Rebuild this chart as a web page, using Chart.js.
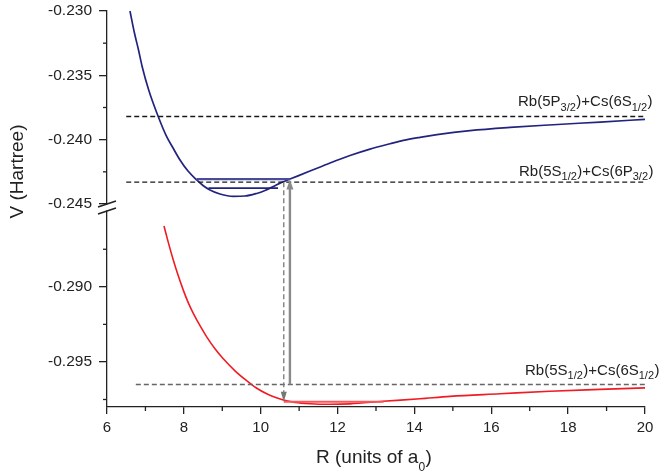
<!DOCTYPE html>
<html><head><meta charset="utf-8">
<script src="https://cdn.jsdelivr.net/npm/chart.js@4/dist/chart.umd.min.js"></script>
<style>html,body{margin:0;padding:0;background:#fff}</style>
</head><body>
<canvas id="c" width="659" height="474"></canvas>
<script>
// ---- data ----
const UPPER_R = [6.598, 6.716, 6.820, 6.916, 7.085, 7.335, 7.553, 7.704, 7.900, 8.108, 8.334, 8.498, 8.680, 8.940, 9.286, 9.591, 9.895, 10.111, 10.327, 10.528, 10.762, 11.282, 11.803, 12.323, 12.844, 13.364, 13.710, 14.144, 14.587, 15.446, 16.487, 17.613, 18.836, 20.0];
const UPPER_V = [-0.23000, -0.23173, -0.23303, -0.23433, -0.23614, -0.23822, -0.23977, -0.24057, -0.24158, -0.24244, -0.24313, -0.24356, -0.24391, -0.24422, -0.24440, -0.24438, -0.24418, -0.24395, -0.24364, -0.24334, -0.24306, -0.24244, -0.24181, -0.24123, -0.24073, -0.24032, -0.24006, -0.23982, -0.23961, -0.23930, -0.23905, -0.23884, -0.23863, -0.23842];
const LOWER_R = [7.483, 7.600, 7.725, 7.848, 7.985, 8.108, 8.246, 8.420, 8.594, 8.810, 9.026, 9.331, 9.635, 9.877, 10.156, 10.372, 10.588, 10.892, 11.282, 11.803, 12.323, 13.182, 14.145, 14.925, 16.226, 17.527, 18.828, 20.0];
const LOWER_V = [-0.28595, -0.28709, -0.28822, -0.28922, -0.29022, -0.29102, -0.29177, -0.29259, -0.29333, -0.29412, -0.29479, -0.29559, -0.29625, -0.29672, -0.29712, -0.29735, -0.29753, -0.29769, -0.29778, -0.29782, -0.29779, -0.29762, -0.29745, -0.29729, -0.29712, -0.29695, -0.29683, -0.29673];
const ASYM_TOP_V = [-0.2382, -0.2433];
const ASYM_TOP_R = [6.5, 20];
const ASYM_BOT_V = [-0.2965];
const ASYM_BOT_R = [6.75, 20];
const UPPER_LEVEL_V = [-0.24307, -0.24377];
const UPPER_LEVEL_R = [[8.33, 10.76], [8.64, 10.45]];
const LOWER_LEVEL_V = [-0.29765];
const LOWER_LEVEL_R = [[10.6, 13.2]];
const ARROW_UP = [10.76, -0.2965, -0.2431];     // R, from (lower scale), to (upper scale)
const ARROW_DOWN = [10.6, -0.2433, -0.29765];   // R, from (upper scale), to (lower scale)
const X_TICKS = [6, 8, 10, 12, 14, 16, 18, 20];
const X_MINOR = [7, 9, 11, 13, 15, 17, 19];
const Y_TOP_TICKS = [-0.245, -0.240, -0.235, -0.230];
const Y_TOP_MINOR = [-0.2425, -0.2375, -0.2325];
const Y_BOT_TICKS = [-0.295, -0.290];
const Y_BOT_MINOR = [-0.2975, -0.2925, -0.2875];
const ASYM_LABELS = [
  ['Rb(5P', '3/2', ')+Cs(6S', '1/2', ')'],
  ['Rb(5S', '1/2', ')+Cs(6P', '3/2', ')'],
  ['Rb(5S', '1/2', ')+Cs(6S', '1/2', ')']
];
const X_TITLE = ['R (units of a', '0', ')'];
const Y_TITLE = 'V (Hartree)';

const FONT = "'Liberation Sans', Arial, sans-serif";
const INK = '#222';
const BLUE = '#23237f';
const RED = '#f01c24';

const pts = (xs, ys) => xs.map((x, i) => ({x, y: ys[i]}));
const hline = (r, v) => [{x: r[0], y: v}, {x: r[1], y: v}];

const datasets = [];
ASYM_TOP_V.forEach(v => datasets.push({data: hline(ASYM_TOP_R, v), yAxisID: 'yTop', borderColor: '#1a1a1a', borderWidth: 1.3, borderDash: [5, 3], pointRadius: 0}));
ASYM_BOT_V.forEach(v => datasets.push({data: hline(ASYM_BOT_R, v), yAxisID: 'yBot', borderColor: '#666', borderWidth: 1.5, borderDash: [5, 3], pointRadius: 0}));
UPPER_LEVEL_V.forEach((v, i) => datasets.push({data: hline(UPPER_LEVEL_R[i], v), yAxisID: 'yTop', borderColor: i === 0 ? '#4b4b9c' : BLUE, borderWidth: i === 0 ? 2.4 : 1.6, pointRadius: 0}));
LOWER_LEVEL_V.forEach((v, i) => datasets.push({data: hline(LOWER_LEVEL_R[i], v), yAxisID: 'yBot', borderColor: '#f5585c', borderWidth: 2.2, pointRadius: 0}));
datasets.push({data: pts(UPPER_R, UPPER_V), yAxisID: 'yTop', borderColor: BLUE, borderWidth: 1.7, pointRadius: 0, cubicInterpolationMode: 'monotone'});
datasets.push({data: pts(LOWER_R, LOWER_V), yAxisID: 'yBot', borderColor: RED, borderWidth: 1.6, pointRadius: 0, cubicInterpolationMode: 'monotone'});

function drawRich(ctx, parts, x, y, size, subSize, subDrop) {
  ctx.textBaseline = 'alphabetic';
  ctx.textAlign = 'left';
  let cx = x;
  parts.forEach((p, i) => {
    const sub = i % 2 === 1;
    ctx.font = (sub ? subSize : size) + 'px ' + FONT;
    ctx.fillText(p, cx, sub ? y + subDrop : y);
    cx += ctx.measureText(p).width + (sub ? 0.5 : 0);
  });
}

function arrowHead(ctx, x, y, dir, w, l) {
  ctx.beginPath();
  ctx.moveTo(x, y);
  ctx.lineTo(x - w / 2, y - dir * l);
  ctx.lineTo(x + w / 2, y - dir * l);
  ctx.closePath();
  ctx.fill();
}

const extras = {
  id: 'extras',
  afterDatasetsDraw(chart) {
    const {ctx, scales} = chart;
    const x = scales.x, yT = scales.yTop, yB = scales.yBot;
    ctx.save();
    let px = x.getPixelForValue(ARROW_UP[0]);
    let y0 = yB.getPixelForValue(ARROW_UP[1]);
    let y1 = yT.getPixelForValue(ARROW_UP[2]);
    ctx.strokeStyle = '#8a8a8a'; ctx.fillStyle = '#8a8a8a'; ctx.lineWidth = 2.4;
    ctx.beginPath(); ctx.moveTo(px, y0); ctx.lineTo(px, y1 + 8); ctx.stroke();
    arrowHead(ctx, px, y1, -1, 7, 10);
    px = x.getPixelForValue(ARROW_DOWN[0]);
    y0 = yT.getPixelForValue(ARROW_DOWN[1]);
    y1 = yB.getPixelForValue(ARROW_DOWN[2]);
    ctx.strokeStyle = '#777'; ctx.fillStyle = '#777'; ctx.lineWidth = 1.3;
    ctx.setLineDash([5, 3]);
    ctx.beginPath(); ctx.moveTo(px, y0); ctx.lineTo(px, y1 - 8); ctx.stroke();
    ctx.setLineDash([]);
    arrowHead(ctx, px, y1, 1, 6, 10);
    ctx.restore();
  },
  afterDraw(chart) {
    const {ctx, scales, chartArea} = chart;
    const x = scales.x, yT = scales.yTop, yB = scales.yBot;
    ctx.save();
    ctx.strokeStyle = INK; ctx.lineWidth = 1.3;
    const ax = chartArea.left, ay = chartArea.bottom;
    X_MINOR.forEach(v => { const p = x.getPixelForValue(v); ctx.beginPath(); ctx.moveTo(p, ay); ctx.lineTo(p, ay + 4); ctx.stroke(); });
    Y_TOP_MINOR.forEach(v => { const p = yT.getPixelForValue(v); ctx.beginPath(); ctx.moveTo(ax, p); ctx.lineTo(ax - 4, p); ctx.stroke(); });
    Y_BOT_MINOR.forEach(v => { const p = yB.getPixelForValue(v); ctx.beginPath(); ctx.moveTo(ax, p); ctx.lineTo(ax - 4, p); ctx.stroke(); });
    const by = yT.bottom;
    ctx.fillStyle = '#fff';
    ctx.fillRect(ax - 3, by - 3, 6, 6);
    ctx.lineWidth = 1.4;
    ctx.beginPath(); ctx.moveTo(ax - 9, by - 0.5); ctx.lineTo(ax + 9, by - 6.5); ctx.stroke();
    ctx.beginPath(); ctx.moveTo(ax - 9, by + 6.5); ctx.lineTo(ax + 9, by + 0.5); ctx.stroke();
    ctx.fillStyle = INK;
    const lyT0 = yT.getPixelForValue(ASYM_TOP_V[0]);
    const lyT1 = yT.getPixelForValue(ASYM_TOP_V[1]);
    const lyB = yB.getPixelForValue(ASYM_BOT_V[0]);
    drawRich(ctx, ASYM_LABELS[0], 518, lyT0 - 10.5, 15, 11, 4.5);
    drawRich(ctx, ASYM_LABELS[1], 519, lyT1 - 6.5, 15, 11, 4.5);
    drawRich(ctx, ASYM_LABELS[2], 525, lyB - 9.5, 15, 11, 4.5);
    drawRich(ctx, X_TITLE, 316, 463, 19, 12, 7.5);
    ctx.save();
    ctx.translate(22.5, 171.5);
    ctx.rotate(-Math.PI / 2);
    ctx.font = '19px ' + FONT;
    ctx.textAlign = 'center';
    ctx.textBaseline = 'alphabetic';
    ctx.fillText(Y_TITLE, 0, 0);
    ctx.restore();
    ctx.restore();
  }
};

const yCommon = {
  type: 'linear', position: 'left', stack: 'v',
  grid: {display: true, drawOnChartArea: false, drawTicks: true, tickLength: 8, color: INK, lineWidth: 1.3},
  border: {display: true, color: INK, width: 1.3},
  ticks: {color: INK, font: {size: 15.5, family: FONT}, padding: 7, callback: v => v.toFixed(3)},
  afterFit: s => { s.width = 107; s.paddingTop = 0; s.paddingBottom = 0; }
};

new Chart(document.getElementById('c'), {
  type: 'line',
  data: {datasets},
  options: {
    responsive: false,
    animation: false,
    events: [],
    layout: {padding: {left: 0, top: 11, right: 14, bottom: 0}},
    plugins: {legend: {display: false}, tooltip: {enabled: false}},
    scales: {
      x: {
        type: 'linear', position: 'bottom', min: 6, max: 20,
        grid: {display: true, drawOnChartArea: false, drawTicks: true, tickLength: 7, color: INK, lineWidth: 1.3},
        border: {display: true, color: INK, width: 1.3},
        ticks: {color: INK, font: {size: 15, family: FONT}, padding: 5, maxRotation: 0},
        afterBuildTicks: s => { s.ticks = X_TICKS.map(v => ({value: v})); },
        afterFit: s => { s.height = 67; }
      },
      yBot: Object.assign({}, yCommon, {
        min: -0.298, max: -0.28472, stackWeight: 199.5,
        afterBuildTicks: s => { s.ticks = Y_BOT_TICKS.map(v => ({value: v})); }
      }),
      yTop: Object.assign({}, yCommon, {
        min: -0.245272, max: -0.230, stackWeight: 196.5,
        afterBuildTicks: s => { s.ticks = Y_TOP_TICKS.map(v => ({value: v})); }
      })
    }
  },
  plugins: [extras]
});
</script>
</body></html>
